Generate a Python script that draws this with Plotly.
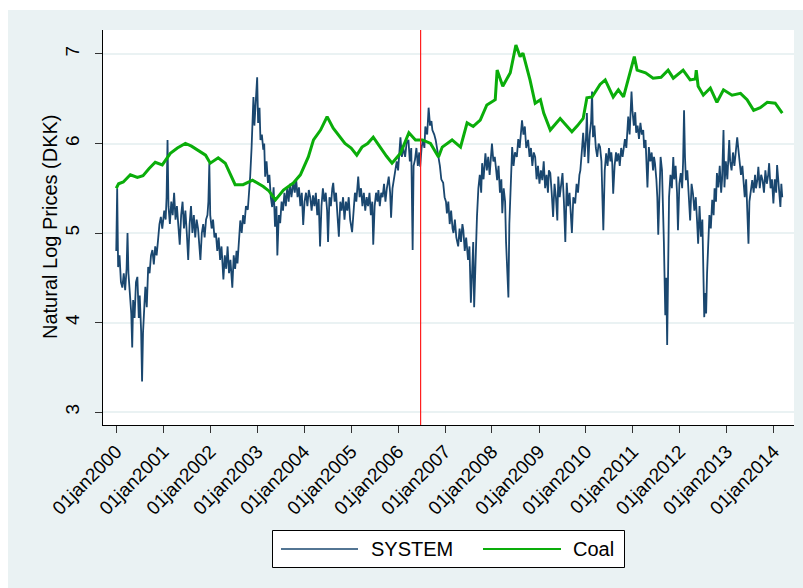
import pandas as pd
import plotly.graph_objects as go

# Natural log of daily prices (DKK), sampled as (decimal year, log price)
system_obs = [
    (2000.00, 4.80), (2000.02, 5.50), (2000.04, 4.62), (2000.07, 4.75), (2000.10, 4.45), (2000.13, 4.39),
    (2000.16, 4.55), (2000.19, 4.36), (2000.22, 4.60), (2000.24, 5.00), (2000.26, 4.55), (2000.29, 4.30),
    (2000.32, 4.10), (2000.34, 3.72), (2000.36, 4.25), (2000.39, 4.05), (2000.42, 4.45), (2000.45, 4.51),
    (2000.48, 4.05), (2000.50, 4.30), (2000.53, 3.90), (2000.55, 3.34), (2000.57, 3.88), (2000.60, 4.20),
    (2000.62, 4.40), (2000.65, 4.17), (2000.68, 4.62), (2000.71, 4.55), (2000.74, 4.75), (2000.77, 4.81),
    (2000.80, 4.65), (2000.83, 4.85), (2000.86, 4.75), (2000.89, 4.92), (2000.92, 5.10), (2000.95, 5.18),
    (2000.98, 5.05),
    (2001.02, 5.25), (2001.05, 5.15), (2001.07, 5.40), (2001.09, 6.04), (2001.11, 5.30), (2001.14, 5.10),
    (2001.17, 5.35), (2001.20, 5.20), (2001.23, 5.45), (2001.26, 5.15), (2001.29, 5.30), (2001.32, 5.05),
    (2001.35, 4.87), (2001.38, 5.20), (2001.41, 5.35), (2001.44, 5.05), (2001.47, 5.25), (2001.50, 5.00),
    (2001.53, 4.70), (2001.56, 5.10), (2001.59, 5.30), (2001.62, 5.00), (2001.65, 5.20), (2001.68, 4.95),
    (2001.71, 5.15), (2001.74, 5.05), (2001.77, 4.85), (2001.79, 4.70), (2001.82, 5.00), (2001.85, 5.10),
    (2001.88, 4.95), (2001.91, 5.15), (2001.94, 5.20), (2001.96, 5.35), (2001.98, 5.78), (2002.00, 5.20),
    (2002.03, 5.05), (2002.06, 5.15), (2002.09, 4.95), (2002.12, 5.00), (2002.15, 4.80), (2002.18, 4.95),
    (2002.21, 4.70), (2002.24, 4.85), (2002.28, 4.48), (2002.31, 4.75), (2002.34, 4.60), (2002.37, 4.85),
    (2002.40, 4.55), (2002.43, 4.70), (2002.47, 4.39), (2002.50, 4.75), (2002.53, 4.60), (2002.56, 4.80),
    (2002.58, 4.66), (2002.61, 4.95), (2002.64, 5.14), (2002.67, 5.00), (2002.70, 5.20), (2002.73, 5.10),
    (2002.76, 5.30), (2002.80, 5.26), (2002.83, 5.45), (2002.85, 5.63), (2002.88, 5.95), (2002.92, 6.52),
    (2002.94, 6.20), (2002.97, 6.45), (2003.00, 6.74), (2003.02, 6.23), (2003.05, 6.40), (2003.07, 6.04),
    (2003.10, 6.10), (2003.13, 5.93), (2003.15, 6.00), (2003.17, 5.63), (2003.20, 5.80), (2003.23, 5.56),
    (2003.26, 5.65), (2003.29, 5.40), (2003.32, 5.29), (2003.35, 5.51), (2003.38, 5.07), (2003.41, 5.30),
    (2003.43, 4.75), (2003.46, 5.20), (2003.49, 5.11), (2003.52, 5.35), (2003.55, 5.25), (2003.58, 5.45),
    (2003.61, 5.30), (2003.64, 5.51), (2003.67, 5.35), (2003.70, 5.55), (2003.73, 5.40), (2003.77, 5.57),
    (2003.80, 5.45), (2003.83, 5.60), (2003.86, 5.40), (2003.89, 5.51), (2003.92, 5.30), (2003.95, 5.45),
    (2003.98, 5.09), (2004.01, 5.35),
    (2004.04, 5.45), (2004.07, 5.30), (2004.10, 5.48), (2004.13, 5.40), (2004.16, 5.25), (2004.19, 5.42),
    (2004.22, 5.30), (2004.25, 5.45), (2004.28, 5.20), (2004.31, 5.38), (2004.34, 4.85), (2004.37, 5.30),
    (2004.40, 5.50), (2004.43, 5.35), (2004.46, 5.45), (2004.49, 5.25), (2004.51, 4.90), (2004.54, 5.40),
    (2004.57, 5.30), (2004.60, 5.50), (2004.62, 5.56), (2004.65, 5.35), (2004.68, 5.45), (2004.71, 5.20),
    (2004.74, 4.96), (2004.77, 5.35), (2004.80, 5.25), (2004.83, 5.40), (2004.86, 5.15), (2004.89, 5.35),
    (2004.92, 5.25), (2004.95, 5.40), (2004.98, 5.15), (2005.02, 5.01), (2005.05, 5.30), (2005.08, 5.45),
    (2005.11, 5.35), (2005.15, 5.63), (2005.18, 5.40), (2005.21, 5.50), (2005.24, 5.30), (2005.27, 5.45),
    (2005.30, 5.25), (2005.33, 5.40), (2005.36, 5.30), (2005.39, 5.45), (2005.42, 5.20), (2005.45, 5.35),
    (2005.47, 4.87), (2005.50, 5.30), (2005.53, 5.45), (2005.56, 5.35), (2005.58, 5.48), (2005.61, 5.30),
    (2005.64, 5.45), (2005.67, 5.40), (2005.70, 5.55), (2005.73, 5.35), (2005.76, 5.50), (2005.80, 5.63),
    (2005.83, 5.45), (2005.85, 5.17), (2005.88, 5.50), (2005.91, 5.60), (2005.94, 5.67), (2005.97, 5.80),
    (2006.00, 5.70), (2006.03, 5.90), (2006.05, 6.07), (2006.08, 5.85), (2006.11, 5.95), (2006.15, 5.85),
    (2006.18, 6.00), (2006.22, 6.04), (2006.25, 5.80), (2006.28, 5.95), (2006.31, 4.81), (2006.33, 5.75),
    (2006.36, 5.82), (2006.39, 5.95), (2006.42, 5.75), (2006.45, 5.90), (2006.47, 5.74), (2006.50, 5.95),
    (2006.53, 6.05), (2006.56, 5.95), (2006.58, 6.19), (2006.62, 6.10), (2006.65, 6.40), (2006.68, 6.20),
    (2006.71, 6.25), (2006.73, 6.15), (2006.77, 6.10), (2006.80, 6.04), (2006.83, 5.95), (2006.86, 5.85),
    (2006.89, 5.75), (2006.92, 5.60), (2006.96, 5.56), (2006.99, 5.40),
    (2007.02, 5.35), (2007.04, 5.22), (2007.07, 5.35), (2007.10, 5.10), (2007.13, 5.25), (2007.16, 5.05),
    (2007.18, 5.00), (2007.21, 5.15), (2007.24, 4.95), (2007.28, 4.85), (2007.31, 5.05), (2007.34, 4.90),
    (2007.37, 5.10), (2007.39, 5.03), (2007.42, 4.80), (2007.45, 4.95), (2007.49, 4.70), (2007.52, 4.85),
    (2007.55, 4.22), (2007.58, 4.60), (2007.60, 4.90), (2007.62, 4.17), (2007.65, 4.75), (2007.68, 5.18),
    (2007.71, 5.50), (2007.74, 5.65), (2007.77, 5.45), (2007.79, 5.78), (2007.82, 5.60), (2007.86, 5.89),
    (2007.89, 5.70), (2007.92, 5.85), (2007.95, 5.65), (2007.98, 5.90), (2008.00, 6.00), (2008.03, 5.80),
    (2008.06, 5.85), (2008.09, 5.70), (2008.11, 5.59), (2008.14, 5.75), (2008.17, 5.45), (2008.20, 5.60),
    (2008.22, 5.22), (2008.25, 5.50), (2008.28, 5.35), (2008.30, 4.90), (2008.32, 4.62), (2008.35, 4.28),
    (2008.37, 5.10), (2008.40, 5.60), (2008.43, 5.96), (2008.46, 5.75), (2008.49, 5.90), (2008.53, 5.85),
    (2008.56, 6.05), (2008.59, 5.95), (2008.62, 6.15), (2008.64, 6.26), (2008.67, 6.10), (2008.70, 6.19),
    (2008.73, 5.95), (2008.77, 6.04), (2008.80, 5.85), (2008.83, 5.95), (2008.86, 5.75), (2008.89, 5.90),
    (2008.92, 5.85), (2008.95, 5.60), (2008.98, 5.75),
    (2009.01, 5.55), (2009.04, 5.70), (2009.07, 5.59), (2009.10, 5.80), (2009.13, 5.50), (2009.16, 5.65),
    (2009.19, 5.45), (2009.21, 5.70), (2009.24, 5.67), (2009.27, 5.45), (2009.30, 5.18), (2009.33, 5.55),
    (2009.36, 5.40), (2009.39, 5.14), (2009.41, 5.63), (2009.44, 5.40), (2009.47, 5.55), (2009.50, 5.67),
    (2009.53, 5.35), (2009.56, 4.90), (2009.59, 5.56), (2009.62, 5.30), (2009.65, 5.45), (2009.68, 5.20),
    (2009.70, 5.00), (2009.73, 5.40), (2009.77, 5.33), (2009.80, 5.55), (2009.83, 5.45), (2009.86, 5.65),
    (2009.88, 5.70), (2009.91, 5.90), (2009.94, 6.12), (2009.97, 5.85), (2010.00, 6.05), (2010.02, 6.34),
    (2010.05, 5.78), (2010.08, 6.10), (2010.11, 6.25), (2010.13, 6.58), (2010.15, 6.07), (2010.18, 6.20),
    (2010.21, 5.95), (2010.24, 5.85), (2010.27, 6.00), (2010.30, 5.96), (2010.33, 5.80), (2010.35, 5.40),
    (2010.37, 5.03), (2010.40, 5.70), (2010.43, 5.89), (2010.46, 5.75), (2010.49, 5.95), (2010.52, 5.80),
    (2010.54, 5.90), (2010.56, 5.78), (2010.58, 5.44), (2010.61, 5.75), (2010.64, 5.90), (2010.66, 5.80),
    (2010.69, 5.89), (2010.72, 5.75), (2010.75, 5.95), (2010.78, 5.85), (2010.80, 5.96), (2010.83, 6.05),
    (2010.86, 5.95), (2010.90, 6.30), (2010.93, 6.10), (2010.97, 6.58), (2010.99, 6.37),
    (2011.02, 6.20), (2011.05, 6.35), (2011.07, 6.12), (2011.10, 6.20), (2011.13, 6.05), (2011.16, 6.23),
    (2011.19, 6.10), (2011.22, 6.15), (2011.24, 5.95), (2011.27, 6.04), (2011.29, 5.80), (2011.31, 5.51),
    (2011.34, 5.96), (2011.37, 5.80), (2011.40, 5.90), (2011.43, 5.70), (2011.45, 5.85), (2011.47, 5.78),
    (2011.50, 5.60), (2011.52, 5.40), (2011.54, 4.98), (2011.57, 5.60), (2011.59, 5.85), (2011.62, 5.70),
    (2011.64, 5.35), (2011.66, 4.90), (2011.69, 4.08), (2011.71, 4.50), (2011.73, 3.75), (2011.75, 4.60),
    (2011.77, 5.40), (2011.80, 5.65), (2011.83, 5.50), (2011.86, 5.85), (2011.88, 5.60), (2011.91, 5.75),
    (2011.94, 5.45), (2011.96, 5.03), (2011.99, 5.55), (2012.02, 5.67), (2012.05, 5.50), (2012.07, 5.80),
    (2012.09, 6.37), (2012.11, 5.85), (2012.13, 5.59), (2012.16, 5.70), (2012.19, 5.40), (2012.22, 5.14),
    (2012.25, 5.55), (2012.28, 5.44), (2012.31, 5.25), (2012.34, 5.40), (2012.37, 5.10), (2012.39, 4.88),
    (2012.42, 5.30), (2012.45, 4.96), (2012.48, 5.15), (2012.50, 4.50), (2012.52, 4.06), (2012.54, 4.33),
    (2012.56, 4.10), (2012.58, 4.55), (2012.60, 4.88), (2012.63, 5.20), (2012.66, 5.05), (2012.69, 5.37),
    (2012.72, 5.20), (2012.74, 5.50), (2012.77, 5.35), (2012.79, 5.67), (2012.82, 5.51), (2012.85, 5.75),
    (2012.88, 5.45), (2012.90, 5.60), (2012.93, 6.15), (2012.95, 5.51), (2012.98, 5.80),
    (2013.01, 5.60), (2013.05, 6.04), (2013.07, 5.80), (2013.10, 5.70), (2013.13, 5.90), (2013.16, 5.75),
    (2013.19, 5.95), (2013.22, 6.07), (2013.24, 5.96), (2013.27, 5.80), (2013.30, 5.65), (2013.33, 5.75),
    (2013.35, 5.56), (2013.38, 5.40), (2013.41, 5.60), (2013.43, 5.30), (2013.46, 4.88), (2013.48, 5.35),
    (2013.51, 5.50), (2013.54, 5.59), (2013.57, 5.45), (2013.60, 5.65), (2013.62, 5.50), (2013.65, 5.60),
    (2013.67, 5.74), (2013.70, 5.50), (2013.73, 5.65), (2013.76, 5.59), (2013.79, 5.45), (2013.82, 5.70),
    (2013.85, 5.55), (2013.88, 5.65), (2013.90, 5.78), (2013.93, 5.50), (2013.96, 5.60), (2013.99, 5.33),
    (2014.02, 5.60), (2014.05, 5.45), (2014.07, 5.76), (2014.10, 5.50), (2014.12, 5.35), (2014.14, 5.29),
    (2014.16, 5.55), (2014.18, 5.40),
]

coal_obs = [
    (2000.00, 5.50), (2000.05, 5.55), (2000.15, 5.57), (2000.30, 5.65), (2000.45, 5.62), (2000.57, 5.64),
    (2000.70, 5.72), (2000.83, 5.79), (2000.98, 5.76), (2001.15, 5.89), (2001.30, 5.95), (2001.47, 6.00),
    (2001.60, 5.97), (2001.72, 5.93), (2001.90, 5.87), (2002.00, 5.78), (2002.17, 5.84), (2002.32, 5.78),
    (2002.45, 5.62), (2002.53, 5.54), (2002.70, 5.54), (2002.90, 5.59), (2003.13, 5.52), (2003.25, 5.47),
    (2003.39, 5.37), (2003.56, 5.48), (2003.77, 5.56), (2003.92, 5.65), (2004.09, 5.85), (2004.20, 6.04),
    (2004.35, 6.15), (2004.49, 6.30), (2004.62, 6.17), (2004.75, 6.08), (2004.87, 6.00), (2005.00, 5.95),
    (2005.12, 5.87), (2005.23, 5.96), (2005.35, 6.00), (2005.47, 6.07), (2005.62, 5.95), (2005.75, 5.86),
    (2005.87, 5.78), (2006.05, 5.89), (2006.23, 6.12), (2006.37, 6.04), (2006.52, 6.04), (2006.69, 6.00),
    (2006.86, 5.85), (2006.94, 5.96), (2007.15, 6.04), (2007.33, 5.96), (2007.47, 6.23), (2007.60, 6.19),
    (2007.75, 6.26), (2007.89, 6.43), (2008.07, 6.49), (2008.11, 6.82), (2008.23, 6.64), (2008.39, 6.79),
    (2008.51, 7.10), (2008.60, 6.97), (2008.66, 7.01), (2008.81, 6.71), (2008.92, 6.45), (2009.03, 6.49),
    (2009.10, 6.34), (2009.24, 6.15), (2009.45, 6.28), (2009.58, 6.20), (2009.70, 6.13), (2009.82, 6.20),
    (2009.94, 6.28), (2010.02, 6.51), (2010.13, 6.52), (2010.30, 6.66), (2010.41, 6.71), (2010.58, 6.52),
    (2010.69, 6.60), (2010.80, 6.52), (2010.94, 6.79), (2011.03, 6.97), (2011.09, 6.82), (2011.27, 6.79),
    (2011.43, 6.73), (2011.60, 6.74), (2011.75, 6.82), (2011.86, 6.73), (2012.07, 6.82), (2012.22, 6.71),
    (2012.33, 6.72), (2012.35, 6.82), (2012.39, 6.64), (2012.50, 6.54), (2012.65, 6.62), (2012.79, 6.46),
    (2012.93, 6.60), (2013.11, 6.54), (2013.29, 6.56), (2013.43, 6.49), (2013.57, 6.37), (2013.71, 6.40),
    (2013.86, 6.46), (2014.03, 6.45), (2014.18, 6.34),
]

tick_years = list(range(2000, 2015))
tick_labels = [f"01jan{y}" for y in tick_years]
y_ticks = [3, 4, 5, 6, 7]
break_date = "2006-06-25"

NAVY = "#1a476f"
GREEN = "#0aad0a"
PANEL = "#eaf2f3"
FONT = "Liberation Sans, Arial, sans-serif"


def to_dates(decimal_years):
    out = []
    for t in decimal_years:
        y = int(t)
        out.append(pd.Timestamp(y, 1, 1) + pd.Timedelta(days=(t - y) * 365.25))
    return out


sys_t, sys_v = zip(*system_obs)
coal_t, coal_v = zip(*coal_obs)

fig = go.Figure()
fig.add_trace(go.Scatter(x=to_dates(sys_t), y=list(sys_v), mode="lines", name="SYSTEM",
                         line=dict(color=NAVY, width=1.8)))
fig.add_trace(go.Scatter(x=to_dates(coal_t), y=list(coal_v), mode="lines", name="Coal",
                         line=dict(color=GREEN, width=3)))

# plot area geometry in pixels: x 103..794, y 30..425
L, R, T, B = 103, 794, 30, 425
W, H = R - L, B - T


def px(x):
    return (x - L) / W


def py(y):
    return (B - y) / H


shapes = [
    # white strips framing the light panel
    dict(type="rect", xref="paper", yref="paper", x0=-0.3, x1=1.3, y0=py(10), y1=1.3,
         fillcolor="white", line=dict(width=0), layer="below"),
    dict(type="rect", xref="paper", yref="paper", x0=-0.3, x1=px(8), y0=-0.6, y1=1.3,
         fillcolor="white", line=dict(width=0), layer="below"),
    # structural break marker
    dict(type="line", xref="x", yref="paper", x0=break_date, x1=break_date, y0=0, y1=1,
         line=dict(color="#ff2020", width=1.2)),
    # legend box
    dict(type="rect", xref="paper", yref="paper", x0=px(272.5), x1=px(624.5), y0=py(567.5), y1=py(530.5),
         fillcolor="white", line=dict(color="black", width=1)),
    dict(type="line", xref="paper", yref="paper", x0=px(281), x1=px(358), y0=py(549), y1=py(549),
         line=dict(color=NAVY, width=1.6)),
    dict(type="line", xref="paper", yref="paper", x0=px(483), x1=px(561), y0=py(549), y1=py(549),
         line=dict(color=GREEN, width=1.8)),
]

annotations = [
    dict(text="Natural Log Prices (DKK)", xref="paper", yref="paper", x=px(50), y=py(227),
         textangle=-90, showarrow=False, xanchor="center", yanchor="middle",
         font=dict(size=20, color="black", family=FONT)),
    dict(text="SYSTEM", xref="paper", yref="paper", x=px(369), y=py(549), showarrow=False,
         xanchor="left", yanchor="middle", font=dict(size=20, color="black", family=FONT)),
    dict(text="Coal", xref="paper", yref="paper", x=px(571), y=py(549), showarrow=False,
         xanchor="left", yanchor="middle", font=dict(size=20, color="black", family=FONT)),
]

fig.update_layout(
    width=803, height=588,
    margin=dict(l=L, r=803 - R, t=T, b=588 - B, pad=0),
    paper_bgcolor=PANEL, plot_bgcolor="white",
    showlegend=False,
    font=dict(family=FONT, color="black"),
    shapes=shapes, annotations=annotations,
    xaxis=dict(
        type="date",
        range=["1999-09-20", "2014-06-07"],
        tickvals=[pd.Timestamp(y, 1, 1) for y in tick_years],
        ticktext=tick_labels,
        tickangle=-45,
        tickfont=dict(size=19, family=FONT, color="black"),
        ticks="outside", ticklen=7, tickwidth=1, tickcolor="#333333",
        showline=True, linecolor="black", linewidth=1.2,
        showgrid=False, zeroline=False,
    ),
    yaxis=dict(
        range=[2.855, 7.268],
        tickvals=y_ticks,
        ticktext=[str(v) for v in y_ticks],
        tickangle=-90,
        ticklabelstandoff=8,
        tickfont=dict(size=19, family=FONT, color="black"),
        ticks="outside", ticklen=7, tickwidth=1, tickcolor="#333333",
        showline=True, linecolor="black", linewidth=1.2,
        showgrid=True, gridcolor=PANEL, gridwidth=2,
        zeroline=False,
    ),
)

fig.write_html("out.html")
